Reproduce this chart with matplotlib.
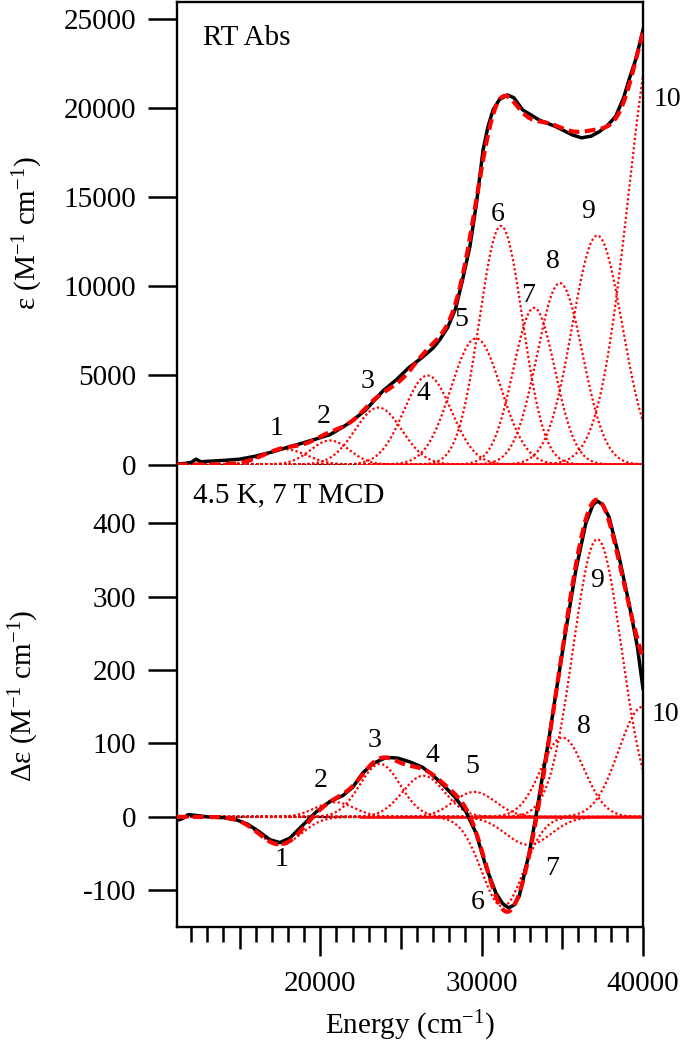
import matplotlib
matplotlib.use("Agg")
import matplotlib.pyplot as plt
import numpy as np

plt.rcParams['font.family'] = ['Liberation Serif', 'DejaVu Serif']
plt.rcParams['mathtext.fontset'] = 'custom'
plt.rcParams['mathtext.rm'] = 'Liberation Serif'
plt.rcParams['mathtext.it'] = 'Liberation Serif:italic'

# RT absorption, experimental (black)
abs_energy = [11100, 11600, 12000, 12300, 12600, 13000, 14000, 15000, 16000, 17000,
              17800, 18800, 19800, 20600, 21400, 22000, 22800, 23900, 24700, 25500,
              26300, 27000, 27400, 27900, 28400, 28800, 29270, 29680, 30090, 30400,
              30710, 31100, 31600, 32000, 32540, 33570, 34600, 35630, 36200, 36800,
              37300, 37800, 38300, 38800, 39130, 39540, 40000]
abs_eps = [30, 60, 120, 300, 150, 180, 230, 300, 470, 700,
           920, 1180, 1450, 1680, 2100, 2470, 3050, 4150, 4750, 5450,
           6000, 6550, 7000, 7700, 8800, 10300, 12230, 14670, 17670, 19000,
           19920, 20500, 20760, 20600, 19920, 19350, 18980, 18510, 18350, 18450,
           18700, 19050, 19540, 20600, 21600, 22720, 24400]

# Gaussian bands of the absorption fit
abs_center = [17800, 20600, 23600, 26650, 29650, 31200, 33250, 34850, 37170, 41000]
abs_height = [860, 1350, 3200, 5000, 7080, 13400, 8800, 10190, 12860, 25100]
abs_sigma = [1340, 1200, 1450, 1470, 1550, 1340, 1290, 1415, 1550, 1890]

# 4.5 K, 7 T MCD, experimental (black)
mcd_energy = [11100, 11500, 11800, 12300, 13000, 14000, 14800, 15500, 16200, 16870,
              17490, 18110, 18930, 19760, 20600, 21400, 22000, 22640, 23300, 24100,
              24800, 25530, 26300, 26800, 27500, 28300, 29030, 29650, 30270, 30890,
              31300, 31670, 32000, 32330, 32950, 33360, 33770, 34190, 34600, 35220,
              35840, 36460, 36900, 37170, 37500, 37900, 38520, 39130, 39650, 40000]
mcd_de = [-5, -2, 3, 2, 0, -1, -4, -10, -20, -31,
          -35, -29, -11, 7, 21, 29, 40, 60, 73, 81,
          80, 75, 68, 60, 46, 28, 7, -22, -68, -104,
          -118, -124, -120, -108, -49, 0, 55, 109, 168, 254,
          336, 400, 425, 430, 425, 408, 354, 291, 232, 175]

# Gaussian bands of the MCD fit
mcd_center = [17500, 20900, 23700, 26400, 29550, 31300, 32900, 35010, 37170, 40000]
mcd_height = [-38, 20, 72, 56, 34, -122, -38, 108, 378, 150]
mcd_sigma = [1300, 1200, 1250, 1300, 1300, 1300, 1400, 1330, 1500, 1500]

band_names = ['1', '2', '3', '4', '5', '6', '7', '8', '9', '10']
abs_label_pos = [(17280, 2030), (20210, 2690), (22950, 4650), (26360, 4000), (28720, 8120),
                 (30990, 14070), (32900, 9470), (34390, 11390), (36600, 14200), (41500, 20480)]
mcd_label_pos = [(17590, -58), (20000, 50), (23370, 104), (26970, 84), (29410, 68),
                 (29750, -117), (34390, -70), (36350, 123), (37170, 322), (41400, 139)]

RED = '#ff0000'
FS = 21


def gauss(x, c, a, s):
    return a * np.exp(-(x - c) ** 2 / (2.0 * s ** 2))


def draw_panel(ax, energy, data, centers, heights, sigmas, label_pos):
    grid = np.linspace(11100, 40000, 800)
    total = np.zeros_like(grid)
    ax.plot([11100, 40000], [0, 0], color='black', ls=(0, (1, 1.2)), lw=1.6, zorder=1)
    ax.plot([22500, 40000], [0, 0], color=RED, lw=1.8, zorder=1)
    for c, a, s in zip(centers, heights, sigmas):
        g = gauss(grid, c, a, s)
        total += g
        ax.plot(grid, g, color=RED, ls=(0, (1, 1.1)), lw=1.6, zorder=2)
    ax.plot(energy, data, color='black', lw=2.5, zorder=3)
    ax.plot(grid, total, color=RED, lw=3.0, ls=(0, (2.6, 1.3)), zorder=4)
    for name, (x, y) in zip(band_names, label_pos):
        ax.text(x, y, name, fontsize=20, ha='center', va='center', clip_on=False)
    for sp in ax.spines.values():
        sp.set_linewidth(1.7)
    ax.set_xlim(11100, 40000)


fig = plt.figure(figsize=(6.83, 10.5), dpi=100)
ax1 = fig.add_axes([0.2587, 0.5571, 0.6827, 0.4410])
ax2 = fig.add_axes([0.2587, 0.1171, 0.6827, 0.4400])

draw_panel(ax1, abs_energy, abs_eps, abs_center, abs_height, abs_sigma, abs_label_pos)
draw_panel(ax2, mcd_energy, mcd_de, mcd_center, mcd_height, mcd_sigma, mcd_label_pos)

# top panel
ax1.set_ylim(-30, 25980)
ax1.spines['bottom'].set_visible(False)
ax1.tick_params(axis='x', which='both', bottom=False, labelbottom=False)
yt1 = [0, 5000, 10000, 15000, 20000, 25000]
ax1.set_yticks(yt1, [str(v) for v in yt1])
ax1.tick_params(axis='y', direction='out', length=21, width=1.8, pad=8, labelsize=FS)
ax1.set_ylabel('ε (M$^{-1}$ cm$^{-1}$)', fontsize=FS)
ax1.yaxis.set_label_coords(-0.282, 0.5)
ax1.text(0.056, 0.922, 'RT Abs', transform=ax1.transAxes, fontsize=FS, va='center', ha='left')

# bottom panel
ax2.set_ylim(-150, 479)
ax2.spines['top'].set_visible(False)
yt2 = [-100, 0, 100, 200, 300, 400]
ax2.set_yticks(yt2, [str(v) for v in yt2])
ax2.tick_params(axis='y', direction='out', length=21, width=1.8, pad=8, labelsize=FS)
ax2.set_ylabel('Δε (M$^{-1}$ cm$^{-1}$)', fontsize=FS)
ax2.yaxis.set_label_coords(-0.29, 0.5)
ax2.text(0.036, 0.935, '4.5 K, 7 T MCD', transform=ax2.transAxes, fontsize=FS, va='center', ha='left')

xmaj = [15000, 20000, 25000, 30000, 35000, 40000]
ax2.set_xticks(xmaj, [str(v) if v % 10000 == 0 else '' for v in xmaj])
ax2.set_xticks(list(range(12000, 40000, 1000)), minor=True)
ax2.tick_params(axis='x', which='major', direction='out', length=21, width=1.8, pad=11, labelsize=FS)
ax2.tick_params(axis='x', which='minor', direction='out', length=11, width=1.8)
for t, v in zip(ax2.xaxis.get_major_ticks(), xmaj):
    if v % 10000 != 0:
        t.tick1line.set_markersize(16)
ax2.set_xlabel('Energy (cm$^{-1}$)', fontsize=FS, labelpad=8)

fig.savefig('out.png', dpi=100)
